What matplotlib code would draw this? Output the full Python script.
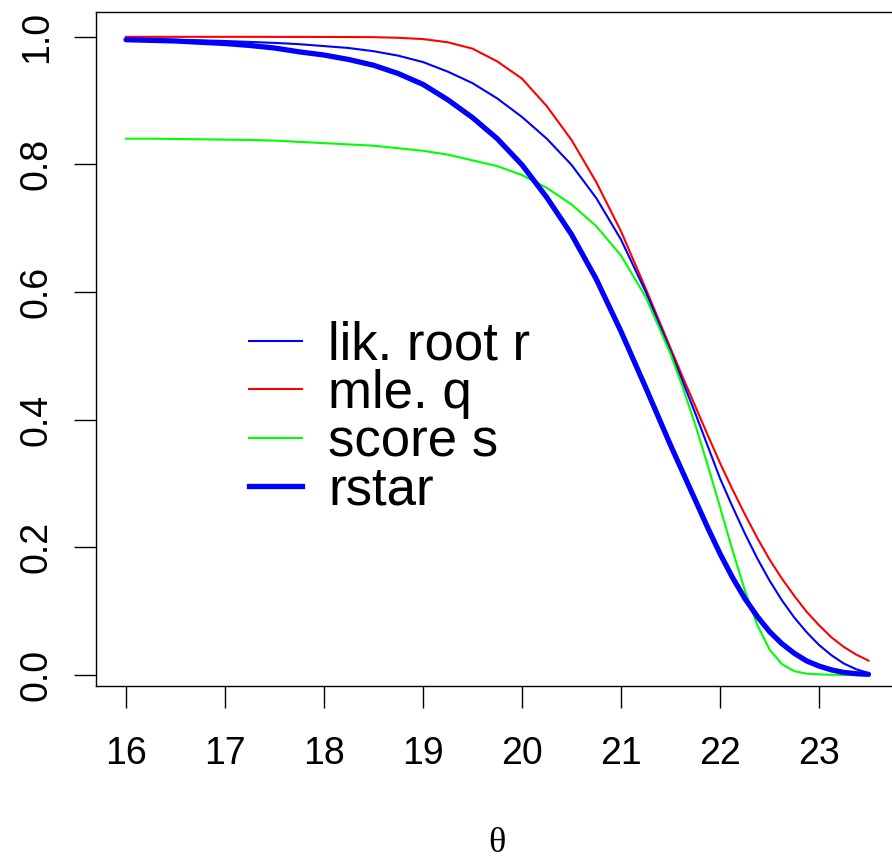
import matplotlib
matplotlib.use("Agg")
import matplotlib.pyplot as plt

theta = [16, 16.25, 16.5, 16.75, 17, 17.25, 17.5, 17.75, 18, 18.25, 18.5, 18.75,
         19, 19.25, 19.5, 19.75, 20, 20.25, 20.5, 20.75, 21, 21.25, 21.5,
         21.625, 21.75, 21.875, 22, 22.125, 22.25, 22.375, 22.5, 22.625, 22.75,
         22.875, 23, 23.125, 23.25, 23.375, 23.5]

mle_q = [0.9995, 0.9995, 0.9995, 0.9995, 0.9995, 0.9995, 0.9994, 0.9994, 0.9993,
         0.9992, 0.999, 0.998, 0.996, 0.991, 0.981, 0.961, 0.934, 0.891, 0.838,
         0.772, 0.695, 0.605, 0.512,
         0.466, 0.421, 0.376, 0.332, 0.291, 0.252, 0.215, 0.181, 0.151, 0.124,
         0.099, 0.078, 0.059, 0.044, 0.032, 0.0225]

lik_root_r = [0.995, 0.995, 0.9945, 0.994, 0.993, 0.9915, 0.990, 0.988, 0.985,
              0.982, 0.977, 0.970, 0.960, 0.945, 0.927, 0.903, 0.874, 0.840,
              0.799, 0.747, 0.682, 0.600, 0.507,
              0.459, 0.410, 0.359, 0.308, 0.264, 0.222, 0.183, 0.148, 0.117,
              0.090, 0.067, 0.047, 0.031, 0.018, 0.009, 0.003]

score_s = [0.840, 0.840, 0.8395, 0.839, 0.8385, 0.838, 0.837, 0.835, 0.833, 0.831,
           0.829, 0.825, 0.821, 0.815, 0.806, 0.797, 0.783, 0.763, 0.737, 0.703,
           0.657, 0.592, 0.503,
           0.450, 0.392, 0.329, 0.263, 0.196, 0.133, 0.079, 0.040, 0.017, 0.006,
           0.002, 0.001, 0.0003, 0.0, 0.0, 0.0]

rstar = [0.995, 0.994, 0.993, 0.991, 0.989, 0.986, 0.982, 0.976, 0.971, 0.964,
         0.955, 0.942, 0.925, 0.901, 0.873, 0.840, 0.799, 0.748, 0.690, 0.620,
         0.538, 0.450, 0.360,
         0.317, 0.274, 0.231, 0.190, 0.153, 0.120, 0.092, 0.068, 0.049, 0.034,
         0.022, 0.014, 0.008, 0.004, 0.002, 0.001]

x_ticks = [16, 17, 18, 19, 20, 21, 22, 23]
y_ticks = [0.0, 0.2, 0.4, 0.6, 0.8, 1.0]
y_tick_labels = ["0.0", "0.2", "0.4", "0.6", "0.8", "1.0"]
legend_labels = ["lik. root r", "mle. q", "score s", "rstar"]

W, H = 892, 859
fig = plt.figure(figsize=(W / 100, H / 100), dpi=100)
plt.rcParams['font.family'] = ['Liberation Sans', 'DejaVu Sans']

ax_left, ax_right, ax_bottom, ax_top = 96.3, 898.2, 685.7, 12.0
ax = fig.add_axes([ax_left / W, 1 - ax_bottom / H,
                   (ax_right - ax_left) / W, (ax_bottom - ax_top) / H])

ax.plot(theta, mle_q, color='#FF0000', lw=1.5)
ax.plot(theta, lik_root_r, color='#0000FF', lw=1.5)
ax.plot(theta, score_s, color='#00FF00', lw=1.5)
ax.plot(theta, rstar, color='#0000FF', lw=3.8, solid_capstyle='round',
        solid_joinstyle='round')

ax.set_xlim(15.7, 23.8)
ax.set_ylim(-0.0168, 1.0384)
ax.set_xticks(x_ticks)
ax.set_xticklabels([str(t) for t in x_ticks])
ax.set_yticks(y_ticks)
ax.set_yticklabels(y_tick_labels)
for s in ax.spines.values():
    s.set_linewidth(1.0)
ax.tick_params(axis='both', direction='out', length=16, width=1.0,
               labelsize=27, colors='black')
ax.tick_params(axis='x', pad=20)
ax.tick_params(axis='y', labelrotation=90, pad=14)
for lab in ax.get_yticklabels():
    lab.set_verticalalignment('center')

fig.text(497 / W, 1 - 843 / H, "θ", family=['Liberation Serif', 'DejaVu Serif'],
         fontsize=26, ha='center', va='center')

# legend drawn manually
rows_y = [340.7, 389.3, 437.7, 486.0]
leg_colors = ['#0000FF', '#FF0000', '#00FF00', '#0000FF']
leg_lw = [1.5, 1.5, 1.5, 3.8]
for yy, lab, c, lw in zip(rows_y, legend_labels, leg_colors, leg_lw):
    fig.add_artist(plt.Line2D([249 / W, 302 / W], [1 - yy / H, 1 - yy / H],
                              color=c, lw=lw, transform=fig.transFigure))
    fig.text(328 / W, 1 - (yy + 19) / H, lab, fontsize=38, ha='left',
             va='baseline')

fig.savefig("out.png", dpi=100)
